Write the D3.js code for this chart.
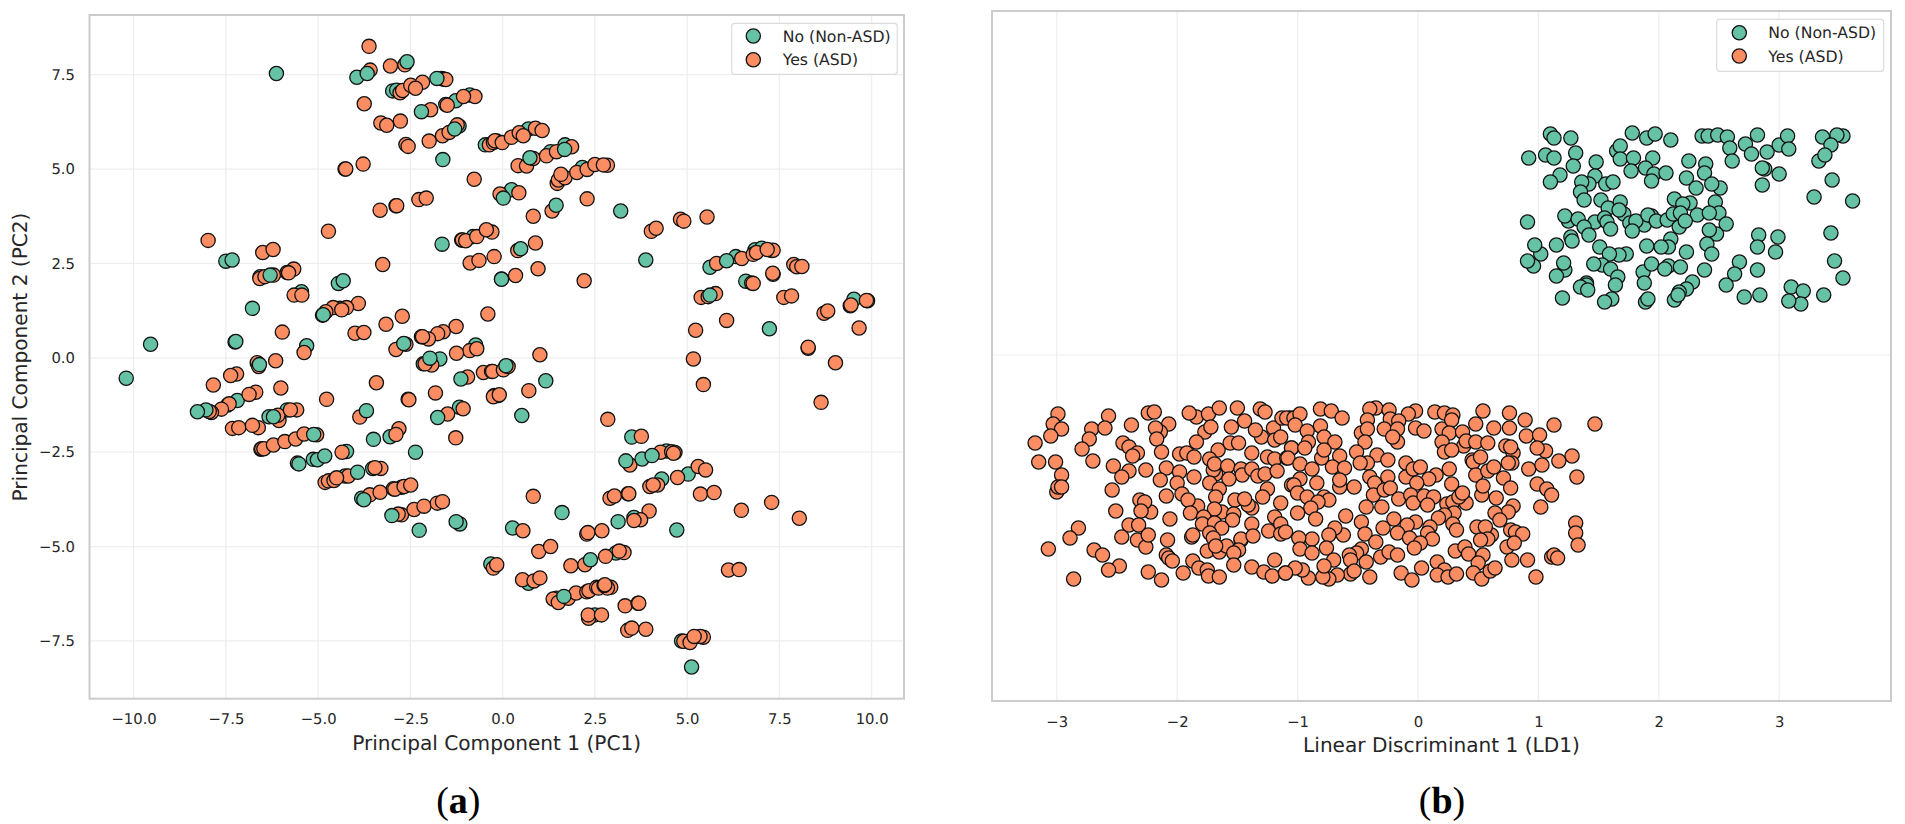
<!DOCTYPE html>
<html><head><meta charset="utf-8">
<script src="https://cdn.jsdelivr.net/npm/d3@7"></script>
<style>html,body{margin:0;padding:0;background:#fff;overflow:hidden}svg{display:block}text{font-family:"DejaVu Sans",sans-serif;fill:#262626;text-rendering:geometricPrecision}</style>
</head><body><svg id="c" width="1905" height="824"></svg>
<script>
const classLabels = ["No (Non-ASD)", "Yes (ASD)"];
const classColors = ["#66c2a5", "#fc8d62"];
const pcaTicksX = [-10,-7.5,-5,-2.5,0,2.5,5,7.5,10];
const pcaTicksY = [-7.5,-5,-2.5,0,2.5,5,7.5];
const ldaTicksX = [-3,-2,-1,0,1,2,3];

const pcaNoBack = [[-2.98,7.07],[-2.87,7.09],[-1.54,6.71],[-1.27,6.81],[-0.89,6.96],[-1.18,6.14],[-0.47,5.64],[0.24,4.45],[-0.80,3.21],[-7.50,2.56],[-6.57,2.15],[-4.45,1.97],[-5.45,1.75],[-4.41,1.31],[-5.31,0.32],[-0.73,0.34],[-2.15,-0.16],[-7.19,-1.13],[-7.45,-1.25],[-6.33,-1.56],[-5.84,-1.38],[-3.05,-2.09],[-1.17,-1.31],[-5.13,-2.69],[-4.23,-2.48],[-3.52,-2.93],[-2.74,-3.43],[-3.82,-3.72],[-1.16,-4.40],[-0.32,-5.46],[0.70,6.06],[1.30,5.46],[1.69,5.64],[2.16,5.04],[3.50,-2.10],[4.44,-2.47],[5.03,-3.08],[4.31,-3.21],[3.56,-4.23],[0.27,-4.51],[3.07,-5.17],[0.70,-5.97],[2.50,-6.81],[4.85,-7.50],[6.84,2.86],[7.02,2.90],[7.29,2.84],[6.59,2.03],[9.52,1.55],[5.62,2.40],[6.32,2.68],[1.46,-6.37],[-1.70,-0.03],[-4.27,-3.13]];

const pcaYes = [[-3.62,8.25],[-3.59,7.62],[-3.04,7.73],[-2.65,7.76],[-1.65,7.40],[-1.59,7.38],[-1.54,7.37],[-2.78,7.02],[-2.71,7.08],[-2.49,7.22],[-2.17,7.30],[-2.36,7.14],[-3.75,6.73],[-1.95,6.57],[-1.50,6.69],[-0.75,6.92],[-1.06,6.92],[-3.30,6.22],[-3.14,6.16],[-2.77,6.27],[-2.62,5.65],[-2.56,5.60],[-1.99,5.74],[-1.63,5.88],[-1.45,5.97],[-1.23,6.17],[-0.36,5.64],[-0.25,5.70],[-0.16,5.74],[-0.21,5.75],[-0.01,5.70],[0.24,5.84],[0.45,5.96],[0.56,5.88],[0.89,6.08],[1.07,6.02],[-4.27,5.00],[-4.25,5.00],[-3.78,5.13],[-0.77,4.73],[-2.27,4.19],[-2.07,4.23],[-2.89,4.03],[-2.87,4.03],[-3.32,3.91],[-0.07,4.34],[0.44,4.37],[-4.72,3.35],[-1.11,3.12],[-1.09,3.12],[-1.00,3.10],[-0.70,3.21],[-0.29,3.33],[-0.44,3.39],[-7.98,3.11],[-6.50,2.79],[-6.22,2.87],[-0.88,2.51],[-0.64,2.58],[-0.23,2.68],[-3.25,2.47],[-6.58,2.10],[-6.44,2.15],[-6.21,2.19],[-5.66,2.35],[-5.84,2.26],[-5.80,2.25],[-5.65,1.66],[-5.44,1.66],[-0.40,1.16],[-3.91,1.44],[-4.59,1.33],[-4.23,1.33],[-4.36,1.27],[-4.79,1.22],[-2.72,1.10],[-3.16,0.89],[-4.00,0.65],[-3.76,0.67],[-5.97,0.68],[-1.26,0.83],[-1.61,0.69],[-1.76,0.64],[-2.01,0.50],[-2.20,0.56],[-2.17,0.56],[-5.38,0.14],[-2.89,0.22],[-2.62,0.36],[-0.89,0.19],[-0.70,0.24],[-1.25,0.12],
[-6.65,-0.13],[-6.61,-0.23],[-6.15,-0.08],[-7.84,-0.72],[-7.21,-0.43],[-7.37,-0.47],[-6.01,-0.80],[-6.69,-0.91],[-6.87,-0.97],[-7.41,-1.22],[-7.62,-1.36],[-7.89,-1.45],[-7.95,-1.42],[-4.77,-1.10],[-3.42,-0.66],[-2.56,-1.10],[-2.54,-1.11],[-1.82,-0.93],[-1.92,-0.19],[-2.10,-0.16],[-0.95,-0.51],[-0.52,-0.39],[-0.30,-0.36],[-0.23,-1.00],[-0.12,-1.00],[-3.87,-1.57],[-1.49,-1.49],[-1.07,-1.35],[-7.32,-1.87],[-7.15,-1.85],[-6.62,-1.85],[-6.78,-1.79],[-6.06,-1.66],[-6.09,-1.52],[-5.58,-1.38],[-5.75,-1.38],[-2.81,-1.88],[-2.89,-2.03],[-1.27,-2.12],[-6.55,-2.42],[-6.53,-2.41],[-6.47,-2.41],[-6.21,-2.31],[-5.90,-2.22],[-5.61,-2.15],[-5.38,-2.02],[-5.04,-2.04],[-5.56,-2.79],[-4.35,-2.50],[-4.81,-3.30],[-4.72,-3.26],[-4.57,-3.25],[-4.18,-3.13],[-4.50,-3.18],[-3.30,-2.93],[-3.46,-2.91],[-3.60,-3.63],[-3.32,-3.56],[-2.96,-3.47],[-2.92,-3.48],[-2.67,-3.41],[-2.49,-3.37],[-2.74,-4.16],[-2.83,-4.14],[-2.40,-4.02],[-2.13,-3.93],[-1.77,-3.85],[-1.63,-3.81],[-0.25,-5.57],[-0.16,-5.48],
[1.01,0.08],[-0.27,-0.36],[0.02,-0.32],[0.15,-0.23],[-0.25,-1.03],[-0.09,-0.98],[0.71,-0.87],[5.17,-0.03],[5.44,-0.71],[8.28,0.25],[9.02,-0.13],[8.63,-1.18],[2.85,-1.63],[3.76,-2.08],[3.45,-2.84],[4.28,-2.50],[4.58,-2.49],[4.67,-2.51],[4.63,-2.53],[5.30,-2.88],[5.50,-2.97],[4.74,-3.17],[3.99,-3.41],[4.20,-3.37],[4.08,-3.37],[5.36,-3.61],[5.73,-3.57],[0.83,-3.67],[2.91,-3.72],[3.03,-3.66],[3.40,-3.60],[3.42,-3.60],[6.47,-4.04],[7.29,-3.83],[8.04,-4.25],[0.55,-4.58],[3.97,-4.06],[3.74,-4.29],[3.56,-4.31],[2.28,-4.67],[2.31,-4.63],[2.69,-4.58],[0.98,-5.13],[1.30,-5.00],[1.85,-5.51],[2.23,-5.48],[2.79,-5.26],[3.29,-5.16],[3.16,-5.12],[6.12,-5.62],[6.41,-5.61],[0.54,-5.88],[0.85,-5.91],[1.01,-5.83],[1.37,-6.39],[1.51,-6.48],[1.78,-6.37],[1.99,-6.23],[2.28,-6.20],[2.34,-6.17],[2.55,-6.08],[2.60,-6.10],[2.93,-6.08],[2.84,-6.10],[2.75,-6.03],[2.77,-6.01],[3.32,-6.57],[3.67,-6.50],[3.69,-6.50],[2.33,-6.90],[2.32,-6.81],[2.68,-6.81],[3.39,-7.22],[3.50,-7.16],[3.88,-7.19],[4.91,-7.51],[5.08,-7.54],[5.44,-7.40],[5.35,-7.38],[5.19,-7.38],
[0.42,5.09],[0.65,5.08],[0.83,5.28],[1.19,5.35],[1.46,5.46],[1.87,5.59],[1.48,4.62],[1.51,4.71],[1.69,4.77],[1.58,4.86],[2.01,4.91],[2.29,4.99],[2.50,5.12],[2.84,5.10],[2.73,5.11],[1.34,3.89],[0.83,3.75],[2.29,4.21],[4.03,3.35],[4.16,3.43],[4.82,3.67],[4.91,3.62],[5.54,3.73],[0.41,2.84],[0.89,3.04],[0.35,2.18],[0.96,2.36],[2.21,2.04],[5.80,2.50],[6.48,2.63],[6.79,2.74],[6.88,2.79],[7.33,2.85],[7.17,2.87],[7.89,2.47],[7.97,2.41],[8.11,2.42],[7.33,2.21],[7.32,2.24],[6.75,1.98],[6.79,1.97],[5.38,1.60],[5.57,1.62],[5.77,1.70],[7.62,1.60],[7.83,1.64],[5.23,0.73],[6.07,0.99],[8.71,1.18],[8.81,1.24],[9.42,1.38],[9.44,1.40],[9.89,1.51],[9.86,1.52],[9.66,0.79],[8.28,0.28]];

const pcaNoFront = [[-6.13,7.53],[-3.95,7.43],[-3.67,7.53],[-2.59,7.84],[-1.78,7.40],[-2.20,6.52],[-1.30,6.06],[-1.62,5.25],[0.02,4.23],[-1.64,3.01],[-7.33,2.59],[-0.03,2.09],[-6.30,2.19],[-4.32,2.04],[-6.78,1.31],[-4.88,1.13],[-4.86,1.14],[-9.54,0.36],[-7.25,0.42],[-7.23,0.43],[-2.68,0.38],[-10.20,-0.54],[-6.59,-0.18],[-8.04,-1.38],[-8.27,-1.43],[-1.97,-0.01],[-1.13,-0.56],[-3.69,-1.40],[-1.76,-1.58],[-6.21,-1.56],[-3.50,-2.16],[-2.36,-2.50],[-5.12,-2.03],[-5.52,-2.81],[-5.02,-2.70],[-4.82,-2.60],[-3.93,-3.03],[-3.76,-3.76],[-3.00,-4.18],[-2.26,-4.57],[-1.26,-4.34],[0.09,-0.21],[1.17,-0.61],[0.52,-1.53],[3.34,-2.73],[3.78,-2.68],[4.05,-2.59],[1.61,-4.10],[3.13,-4.34],[4.72,-4.56],[2.38,-5.35],[1.66,-6.32],[5.12,-8.19],[0.74,5.30],[1.68,5.52],[1.45,4.04],[3.20,3.89],[3.88,2.59],[0.49,2.89],[6.07,2.57],[5.62,1.66],[7.23,0.77],[-0.03,2.08]];

const ldaNo = [[1.10,2.21],[1.13,2.17],[1.27,2.17],[1.78,2.22],[1.90,2.17],[1.97,2.21],[2.10,2.15],[2.36,2.19],[2.41,2.19],[2.49,2.20],[2.57,2.18],[2.59,2.07],[2.72,2.11],[2.82,2.20],[2.77,2.01],[2.90,2.03],[3.00,2.10],[3.07,2.19],[3.08,2.06],[3.36,2.18],[3.53,2.19],[3.48,2.20],[3.43,2.10],[3.33,1.94],[3.38,2.00],[1.65,2.04],[1.68,2.09],[1.68,1.96],[1.79,1.97],[1.95,1.97],[1.31,2.02],[1.06,2.00],[1.13,1.97],[0.92,1.97],[2.25,1.94],[2.39,1.91],[2.61,1.94],[1.48,1.93],[1.29,1.89],[1.18,1.80],[1.10,1.73],[1.77,1.84],[1.89,1.87],[1.96,1.81],[2.06,1.82],[1.94,1.74],[1.47,1.79],[1.42,1.71],[1.36,1.73],[1.56,1.71],[1.62,1.73],[1.35,1.63],[1.38,1.55],[1.52,1.55],[2.23,1.77],[2.38,1.82],[2.31,1.67],[2.51,1.67],[2.44,1.71],[2.88,1.86],[2.86,1.87],[3.00,1.81],[2.86,1.70],[3.44,1.75],[3.29,1.58],[3.61,1.54],[2.13,1.56],[2.26,1.52],[2.20,1.51],[2.47,1.53],[1.58,1.47],[1.68,1.53],[1.71,1.41],[1.67,1.45],[1.25,1.34],[1.22,1.39],[1.33,1.36],[0.91,1.33],[1.47,1.33],[1.38,1.28],[1.42,1.20],[1.55,1.37],[1.57,1.33],[1.60,1.26],[1.88,1.30],[1.76,1.32],[1.81,1.34],[1.78,1.24],[1.94,1.39],[1.91,1.40],[1.98,1.34],[2.07,1.35],[2.12,1.41],[2.18,1.42],[2.50,1.42],[2.32,1.40],[2.17,1.28],[2.22,1.34],[2.42,1.42],[2.56,1.31],[2.10,1.16],[2.48,1.21],[2.42,1.25],[2.40,1.11],[2.44,1.01],[2.83,1.20],[2.99,1.18],[2.82,1.08],[2.97,1.03],[3.43,1.22],[1.27,1.18],[1.28,1.14],[1.02,1.01],[0.97,1.10],[1.15,1.10],[1.51,1.08],[1.73,1.01],[1.67,1.00],[1.59,1.01],[1.90,1.09],[2.08,1.08],[2.02,1.08],[2.23,1.03],[0.96,0.89],[0.91,0.94],[1.22,0.85],[1.21,0.92],[1.15,0.79],[1.53,0.90],[1.46,0.91],[1.60,0.86],[1.66,0.78],[1.64,0.70],[1.87,0.83],[1.94,0.91],[1.88,0.72],[2.08,0.89],[2.05,0.86],[2.18,0.88],[2.38,0.85],[2.67,0.93],[2.63,0.81],[2.82,0.85],[2.56,0.70],[3.46,0.94],[3.53,0.77],[2.28,0.73],[2.23,0.66],[2.13,0.55],[2.17,0.63],[2.16,0.60],[1.40,0.72],[1.40,0.70],[1.35,0.68],[1.41,0.65],[1.20,0.57],[1.61,0.56],[1.55,0.53],[1.89,0.53],[1.91,0.56],[2.71,0.58],[2.84,0.60],[3.10,0.68],[3.20,0.64],[3.18,0.51],[3.08,0.54],[3.37,0.60]];

const ldaYes = [[-2.99,-0.59],[-3.03,-0.69],[-2.96,-0.74],[-3.05,-0.81],[-3.18,-0.88],[-3.15,-1.07],[-3.01,-1.07],[-2.96,-1.20],[-3.00,-1.37],[-2.99,-1.32],[-2.96,-1.32],[-2.57,-0.61],[-2.71,-0.74],[-2.60,-0.73],[-2.73,-0.84],[-2.79,-0.94],[-2.70,-1.06],[-2.38,-0.70],[-2.45,-0.88],[-2.40,-0.92],[-2.33,-0.98],[-2.37,-1.01],[-2.53,-1.11],[-2.40,-1.16],[-2.46,-1.22],[-2.54,-1.35],[-2.26,-1.15],[-2.24,-0.58],[-2.19,-0.57],[-2.07,-0.69],[-2.14,-0.77],[-2.18,-0.73],[-2.17,-0.84],[-2.13,-0.97],[-1.84,-0.62],[-1.90,-0.58],[-1.74,-0.59],[-1.65,-0.53],[-1.50,-0.53],[-1.31,-0.54],[-1.27,-0.57],[-1.44,-0.66],[-1.55,-0.72],[-1.77,-0.77],[-1.72,-0.72],[-1.84,-0.87],[-1.98,-0.99],[-1.92,-0.98],[-1.86,-1.02],[-1.66,-0.95],[-1.56,-0.88],[-1.49,-0.88],[-1.38,-0.98],[-1.30,-0.82],[-1.35,-0.75],[-1.20,-0.73],[-1.13,-0.63],[-1.06,-0.63],[-1.19,-0.85],[-1.14,-0.82],[-1.05,-0.93],[-1.25,-1.02],[-1.19,-1.04],[-1.09,-1.03],[-1.73,-1.04],[-1.68,-1.19],[-1.70,-1.15],[-1.69,-1.09],[-1.58,-1.11],[-1.47,-1.14],[-1.46,-1.20],[-1.57,-1.24],[-1.73,-1.28],[-2.09,-1.13],[-1.98,-1.17],[-1.86,-1.22],[-2.14,-1.25],[-2.00,-1.28],[-1.38,-1.14],[-1.33,-1.21],[-1.27,-1.19],[-1.17,-1.16],[-2.09,-1.41],[-1.96,-1.39],[-1.83,-1.51],[-1.91,-1.45],[-1.89,-1.58],[-1.65,-1.34],[-1.68,-1.42],[-1.52,-1.45],[-1.38,-1.53],[-1.41,-1.50],[-1.44,-1.44],[-1.25,-1.34],[-1.29,-1.42],[-1.14,-1.48],[-1.05,-1.30],[-2.31,-1.45],[-2.22,-1.57],[-2.27,-1.47],[-2.30,-1.56],[-2.51,-1.56],[-2.06,-1.64],[-2.40,-1.70],[-2.32,-1.70],[-2.46,-1.82],[-2.33,-1.85],[-2.26,-1.92],[-2.24,-1.80],[-2.08,-1.85],[-1.63,-1.57],[-1.69,-1.54],[-1.53,-1.59],[-1.54,-1.65],[-1.78,-1.62],[-1.79,-1.69],[-1.69,-1.68],[-1.63,-1.73],[-1.73,-1.78],[-1.70,-1.83],[-1.88,-1.82],[-1.87,-1.80],[-1.47,-1.85],[-1.47,-1.84],[-1.38,-1.69],[-1.37,-1.81],[-1.24,-1.76],[-1.19,-1.62],[-1.14,-1.69],[-1.14,-1.79],[-1.10,-1.77],[-2.82,-1.73],[-2.89,-1.83],[-3.07,-1.94],[-2.69,-1.95],[-2.62,-2.00],[-2.48,-2.11],[-2.57,-2.15],[-2.86,-2.24],[-2.24,-2.17],[-2.13,-2.25],[-1.95,-2.18],[-2.09,-2.00],[-2.07,-2.03],[-2.04,-2.06],[-1.87,-2.06],[-1.82,-2.13],[-1.75,-2.15],[-1.74,-2.21],[-1.65,-2.22],[-1.75,-1.96],[-1.65,-1.97],[-1.59,-1.91],[-1.68,-1.91],[-1.49,-1.95],[-1.53,-1.98],[-1.53,-2.10],[-1.38,-2.12],[-1.28,-2.17],[-1.21,-2.21],[-1.19,-2.05],[-1.10,-2.18],
[-1.09,-0.63],[-1.03,-0.63],[-0.98,-0.59],[-0.81,-0.54],[-0.72,-0.56],[-0.63,-0.63],[-0.35,-0.53],[-0.40,-0.54],[-0.24,-0.55],[-0.02,-0.56],[-0.08,-0.59],[0.14,-0.57],[0.22,-0.58],[0.29,-0.60],[0.54,-0.56],[0.76,-0.58],[0.89,-0.65],[-0.81,-0.71],[-1.02,-0.70],[-0.92,-0.76],[-0.42,-0.65],[-0.23,-0.64],[-0.16,-0.66],[-0.47,-0.78],[-0.42,-0.74],[-0.28,-0.74],[-0.17,-0.74],[-0.17,-0.87],[-0.21,-0.82],[-0.02,-0.73],[0.05,-0.76],[0.20,-0.74],[0.28,-0.65],[0.26,-0.78],[0.37,-0.77],[0.48,-0.69],[0.63,-0.73],[0.76,-0.73],[0.90,-0.81],[1.01,-0.80],[1.13,-0.70],[1.47,-0.69],[-0.78,-0.82],[-0.69,-0.87],[-0.91,-0.87],[-0.44,-0.87],[0.20,-0.87],[0.38,-0.91],[0.40,-0.86],[0.48,-0.87],[0.58,-0.88],[0.73,-0.91],[0.79,-0.98],[0.77,-0.92],[1.06,-0.96],[0.99,-0.93],[-1.05,-0.93],[-0.94,-0.93],[-1.08,-1.03],[-0.80,-1.03],[-0.78,-0.95],[-0.65,-1.01],[-0.51,-0.97],[-0.34,-1.00],[-0.25,-1.05],[-0.98,-1.09],[-0.88,-1.14],[-0.71,-1.12],[-0.61,-1.13],[-0.42,-1.08],[-0.48,-1.08],[-0.10,-1.08],[0.22,-0.97],[0.28,-0.95],[0.45,-1.05],[0.46,-1.07],[0.52,-1.02],[0.78,-1.08],[0.75,-1.08],[0.92,-1.14],[1.03,-1.10],[1.17,-1.06],[1.28,-1.01],[1.32,-1.22],[-0.98,-1.24],[-1.03,-1.30],[-1.00,-1.38],[-0.84,-1.28],[-0.65,-1.32],[-0.65,-1.25],[-0.53,-1.32],[-0.40,-1.22],[-0.36,-1.28],[-0.25,-1.22],[-0.37,-1.40],[-0.28,-1.35],[-0.23,-1.33],[-0.10,-1.22],[-0.04,-1.14],[0.02,-1.12],[0.15,-1.20],[0.09,-1.24],[0.26,-1.14],[0.28,-1.29],[-0.01,-1.28],[0.48,-1.20],[0.58,-1.16],[0.63,-1.12],[0.71,-1.23],[0.53,-1.40],[0.54,-1.31],[0.65,-1.43],[0.77,-1.33],[0.99,-1.29],[1.07,-1.34],[1.11,-1.40],[1.02,-1.52],[-0.92,-1.42],[-0.78,-1.42],[-0.74,-1.45],[-0.83,-1.47],[-0.89,-1.53],[-1.00,-1.58],[-0.85,-1.64],[-0.60,-1.61],[-0.16,-1.44],[-0.06,-1.40],[-0.04,-1.48],[0.05,-1.41],[0.13,-1.42],[0.08,-1.50],[0.40,-1.48],[0.24,-1.49],[0.29,-1.47],[0.34,-1.42],[0.37,-1.38],[-0.43,-1.52],[-0.30,-1.52],[0.79,-1.51],[0.75,-1.57],[0.64,-1.58],[0.68,-1.65],[0.30,-1.58],[0.22,-1.60],[0.17,-1.63],[-0.47,-1.67],[-0.20,-1.64],[-0.02,-1.67],[-0.09,-1.70],[-0.29,-1.73],[-0.44,-1.79],[-0.35,-1.87],[-0.17,-1.78],[-0.07,-1.83],[0.10,-1.72],[0.08,-1.78],[0.12,-1.84],[0.02,-1.88],[-0.03,-1.93],[0.29,-1.69],[0.32,-1.75],[0.49,-1.72],[0.61,-1.80],[0.56,-1.72],[0.58,-1.84],[0.52,-1.85],[0.77,-1.75],[0.81,-1.77],[0.87,-1.79],[0.74,-1.92],[0.80,-1.88],[1.31,-1.68],[1.31,-1.78],[1.33,-1.90],[-0.62,-1.80],[-0.69,-1.73],[-0.74,-1.80],[-0.88,-1.84],[-0.99,-1.83],[-0.98,-1.94],[-0.88,-1.98],[-0.76,-1.93],[-0.47,-1.94],[-0.51,-1.98],[-0.57,-2.00],[-0.56,-2.05],[-0.70,-2.05],[-0.43,-2.07],[-0.31,-2.02],[-0.24,-1.97],[-0.17,-2.00],[0.31,-1.96],[0.39,-1.92],[0.42,-1.99],[0.54,-2.00],[0.78,-2.05],[0.91,-2.05],[1.11,-2.02],[1.13,-2.00],[1.16,-2.03],[0.50,-2.08],[0.16,-2.07],[0.22,-2.15],[0.03,-2.13],[-0.14,-2.18],[-0.05,-2.25],[0.16,-2.20],[0.25,-2.22],[0.32,-2.19],[0.46,-2.18],[0.53,-2.24],[0.60,-2.16],[0.64,-2.13],[0.98,-2.22],[-0.40,-2.22],[-0.56,-2.19],[-0.53,-2.16],[-0.67,-2.20],[-0.74,-2.24],[-0.79,-2.22],[-0.78,-2.11],[-0.91,-2.23],[-0.96,-2.15],[-1.02,-2.13],[-1.10,-2.18]];

const svg = d3.select("#c");
const panels = {
  a:{left:89.5,right:904,top:15,bottom:698.7},
  b:{left:992,right:1891,top:11,bottom:701}
};
const xA = d3.scaleLinear().domain([-11.195,10.877]).range([panels.a.left,panels.a.right]);
const yA = d3.scaleLinear().domain([-9.03,9.08]).range([panels.a.bottom,panels.a.top]);
const xB = d3.scaleLinear().domain([-3.538,3.929]).range([panels.b.left,panels.b.right]);
const yB = d3.scaleLinear().domain([-3.46,3.44]).range([panels.b.bottom,panels.b.top]);

function grid(g,p,x,y,xt,yt){
  g.selectAll("line.gx").data(xt).join("line").attr("x1",d=>x(d)).attr("x2",d=>x(d)).attr("y1",p.top).attr("y2",p.bottom).attr("stroke","#eeeeee").attr("stroke-width",1.2);
  g.selectAll("line.gy").data(yt).join("line").attr("class","gy").attr("x1",p.left).attr("x2",p.right).attr("y1",d=>y(d)).attr("y2",d=>y(d)).attr("stroke","#eeeeee").attr("stroke-width",1.2);
}
function dots(g,data,x,y,c){
  g.append("g").selectAll("circle").data(data).join("circle")
   .attr("cx",d=>x(d[0])).attr("cy",d=>y(d[1])).attr("r",7.1)
   .attr("fill",classColors[c]).attr("stroke","#111").attr("stroke-width",1.3);
}
function frame(g,p){
  g.append("rect").attr("x",p.left).attr("y",p.top).attr("width",p.right-p.left).attr("height",p.bottom-p.top)
   .attr("fill","none").attr("stroke","#cccccc").attr("stroke-width",2);
}
function xAxis(p,x,ticks,fmt,labelText,labelX,labelY){
  const ax = svg.append("g").attr("transform",`translate(0,${p.bottom+4})`)
    .call(d3.axisBottom(x).tickValues(ticks).tickSize(0).tickPadding(11).tickFormat(fmt));
  ax.select(".domain").remove();
  ax.selectAll("text").attr("font-size",14.8).attr("font-family","DejaVu Sans").attr("fill","#262626");
  svg.append("text").attr("x",labelX).attr("y",labelY).attr("text-anchor","middle").attr("font-size",20.1).text(labelText);
}
function legend(bx,by,bw,bh,cx,ty,tx){
  const l = svg.append("g");
  l.append("rect").attr("x",bx).attr("y",by).attr("width",bw).attr("height",bh).attr("rx",3)
   .attr("fill","#fff").attr("fill-opacity",.85).attr("stroke","#dcdcdc").attr("stroke-width",1.2);
  classLabels.forEach((t,i)=>{
    l.append("circle").attr("cx",cx).attr("cy",ty[i]).attr("r",7.1).attr("fill",classColors[i]).attr("stroke","#111").attr("stroke-width",1.3);
    l.append("text").attr("x",tx).attr("y",ty[i]+5.5).attr("font-size",15.7).text(t);
  });
}

// panel a
const ga = svg.append("g");
grid(ga,panels.a,xA,yA,pcaTicksX,pcaTicksY);
dots(ga,pcaNoBack,xA,yA,0);
dots(ga,pcaYes,xA,yA,1);
dots(ga,pcaNoFront,xA,yA,0);
frame(ga,panels.a);
xAxis(panels.a,xA,pcaTicksX,d3.format(".1f"),"Principal Component 1 (PC1)",496.7,750);
const ay = svg.append("g").attr("transform","translate(79,0)")
  .call(d3.axisLeft(yA).tickValues(pcaTicksY).tickSize(0).tickPadding(4).tickFormat(d3.format(".1f")));
ay.select(".domain").remove();
ay.selectAll("text").attr("font-size",14.8).attr("font-family","DejaVu Sans").attr("fill","#262626");
svg.append("text").attr("transform","translate(27,357) rotate(-90)").attr("text-anchor","middle").attr("font-size",20.1).text("Principal Component 2 (PC2)");
legend(731.7,23.3,165.6,51,753.3,[36,59.7],782.7);

// panel b
const gb = svg.append("g");
grid(gb,panels.b,xB,yB,ldaTicksX,[0]);
dots(gb,ldaNo,xB,yB,0);
dots(gb,ldaYes,xB,yB,1);
frame(gb,panels.b);
xAxis(panels.b,xB,ldaTicksX,d3.format("d"),"Linear Discriminant 1 (LD1)",1441.5,751.7);
legend(1716.7,19.3,167,52,1739.3,[32.7,56],1768.3);

// captions
[["(a)",458.3],["(b)",1442]].forEach(([t,x])=>{
  const e = svg.append("text").attr("x",x).attr("y",813).attr("text-anchor","middle").style("font-family","'Liberation Serif',serif").attr("font-size",38).style("fill","#000");
  e.append("tspan").text("(");
  e.append("tspan").attr("font-weight","bold").text(t[1]);
  e.append("tspan").text(")");
});
</script></body></html>
